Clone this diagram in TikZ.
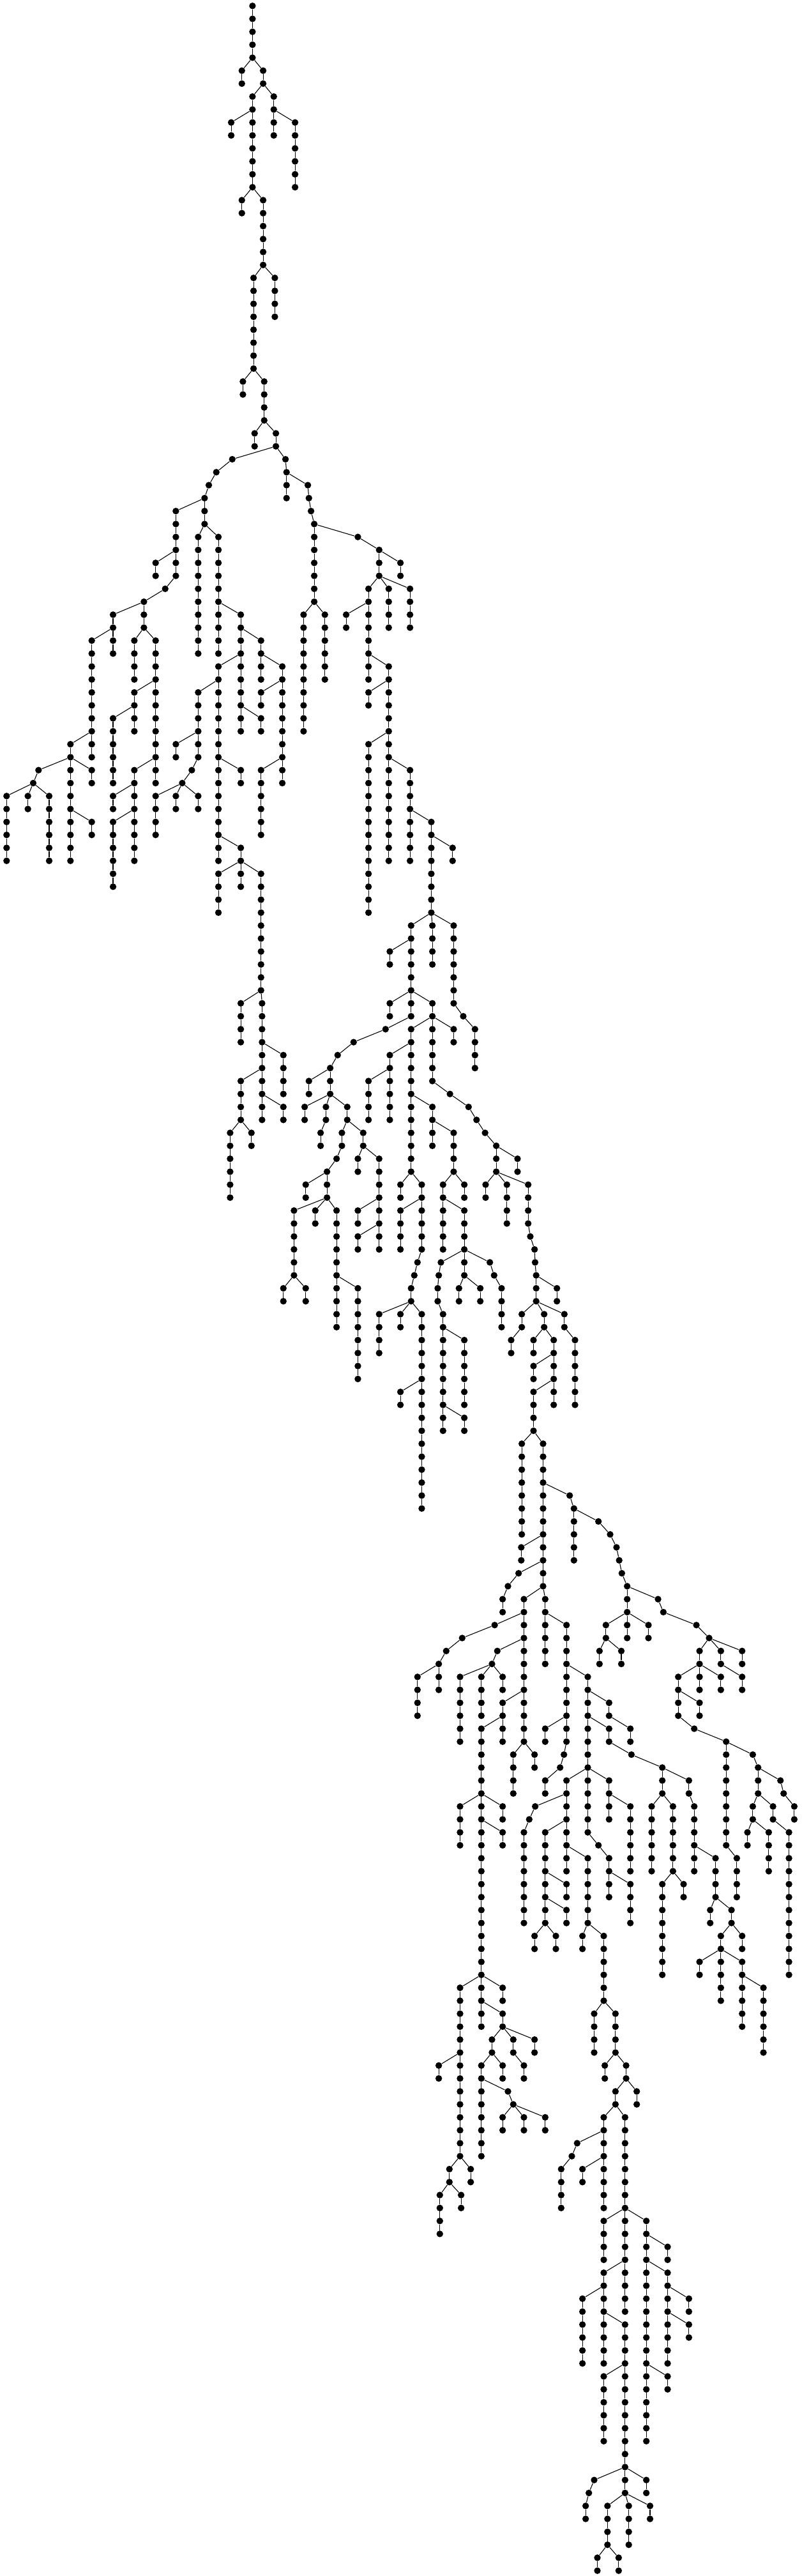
\documentclass[tikz,border=0pt]{standalone}
\tikzset{
  tdot/.style={circle,fill=black,draw=none,inner sep=0pt,minimum size=5.2pt},
  tedge/.style={draw=black,line width=0.55pt}
}
\newcommand\seg[5]{%
  \foreach \k in {1,...,#5}{%
    \node[tdot] (#1-\k) at ({6pt+(#3)*8.335pt},{-4.6pt-(#4+\k-1)*10.14pt}) {};
  }%
  \draw[tedge] (#2) -- (#1-1);%
  \ifnum#5>1
    \foreach \k in {2,...,#5}{%
      \pgfmathtruncatemacro\kprev{\k-1}%
      \draw[tedge] (#1-\kprev) -- (#1-\k);
    }%
  \fi
}
\begin{document}
\begin{tikzpicture}
\fill[white] (0,0) rectangle (627.5pt,-2016.5pt);
\useasboundingbox (0,0) rectangle (627.5pt,-2016.5pt);
\node[tdot] (root) at ({6pt+23.0*8.335pt},-4.6pt) {};
% top
\seg{zA}{root}{23.0}{1}{4}
\seg{zB}{zA-4}{22.0}{5}{2}
\seg{zC}{zA-4}{24.0}{5}{2}
\seg{zD}{zC-2}{23.0}{7}{2}
\seg{zE}{zC-2}{25.0}{7}{2}
\seg{zF}{zD-2}{21.0}{9}{2}
\seg{zG}{zD-2}{23.0}{9}{6}
\seg{zH}{zE-2}{25.0}{9}{2}
\seg{zI}{zE-2}{27.0}{9}{6}
\seg{zJ}{zG-6}{22.0}{15}{2}
\seg{zK}{zG-6}{24.0}{15}{6}
\seg{zM}{zK-6}{23.1}{21}{8}
\seg{zN}{zK-6}{25.1}{21}{4}
\seg{zO}{zM-8}{22.1}{29}{2}
\seg{zP}{zM-8}{24.1}{29}{4}
\seg{zQ}{zP-4}{23.2}{33}{2}
\seg{zR}{zP-4}{25.2}{33}{2}
% left branch
\seg{S1}{zR-2}{21.1}{35}{1}
\seg{S2}{S1-1}{19.6}{36}{1}
\seg{S3}{S2-1}{18.9}{37}{1}
\seg{S4}{S3-1}{18.5}{38}{1}
\seg{U}{S4-1}{15.8}{39}{4}
\seg{V}{S4-1}{18.5}{39}{2}
\seg{W}{U-4}{13.9}{43}{2}
\seg{X}{U-4}{15.8}{43}{2}
\seg{X3}{X-2}{14.8}{45}{1}
\seg{X4}{X3-1}{12.8}{46}{1}
\seg{Y}{X4-1}{9.9}{47}{2}
\seg{Z}{X4-1}{12.8}{47}{2}
\seg{Y1}{Y-2}{7.9}{49}{8}
\seg{Y2}{Y-2}{9.9}{49}{2}
\seg{Y3}{Y1-8}{5.9}{57}{2}
\seg{Y4}{Y1-8}{7.9}{57}{2}
\seg{Y5}{Y3-2}{2.9}{59}{1}
\seg{Y6}{Y5-1}{2.4}{60}{1}
\seg{Y7}{Y3-2}{5.9}{59}{4}
\seg{Y8}{Y3-2}{7.9}{59}{2}
\seg{Y9}{Y6-1}{-0.1}{61}{6}
\seg{Y10}{Y6-1}{1.9}{61}{2}
\seg{Y11}{Y6-1}{3.9}{61}{6}
\seg{Y12}{Y7-4}{5.9}{63}{4}
\seg{Y13}{Y7-4}{7.9}{63}{2}
\seg{Z1}{Z-2}{11.9}{49}{4}
\seg{Z2}{Z-2}{13.9}{49}{10}
\seg{Z3}{Z2-4}{11.9}{53}{2}
\seg{Z4}{Z3-2}{9.9}{55}{6}
\seg{Z5}{Z3-2}{11.9}{55}{2}
\seg{Z6}{Z2-10}{11.9}{59}{2}
\seg{Z7}{Z2-10}{13.9}{59}{2}
\seg{Z8}{Z6-2}{9.9}{61}{2}
\seg{Z9}{Z6-2}{11.9}{61}{2}
\seg{Z10}{Z9-2}{9.9}{63}{6}
\seg{Z11}{Z9-2}{11.9}{63}{4}
\seg{V1}{V-2}{17.9}{41}{10}
\seg{V2}{V-2}{19.8}{41}{6}
\seg{V3}{V2-6}{19.8}{47}{4}
\seg{V4}{V2-6}{21.9}{47}{2}
\seg{V5}{V4-2}{21.9}{49}{2}
\seg{V6}{V4-2}{23.8}{49}{2}
\seg{V7}{V5-2}{19.8}{51}{2}
\seg{V8}{V5-2}{21.9}{51}{4}
\seg{V9}{V7-2}{17.9}{53}{4}
\seg{V10}{V7-2}{19.8}{53}{6}
\seg{V11}{V9-4}{15.8}{57}{2}
\seg{V12}{V9-4}{17.9}{57}{2}
\seg{V13}{V12-2}{17.3}{59}{1}
\seg{V14}{V13-1}{16.4}{60}{1}
\seg{V15}{V14-1}{13.9}{61}{4}
\seg{V16}{V14-1}{15.8}{61}{2}
\seg{V17}{V14-1}{17.9}{61}{2}
\seg{V18}{V10-6}{19.8}{59}{6}
\seg{V19}{V10-6}{21.9}{59}{2}
\seg{V20}{V18-6}{19.8}{65}{2}
\seg{V21}{V18-6}{21.9}{65}{2}
\seg{V22}{V21-2}{19.8}{67}{4}
\seg{V23}{V21-2}{21.9}{67}{2}
\seg{V24}{V21-2}{23.8}{67}{10}
\seg{V25}{V8-4}{21.9}{55}{2}
\seg{V26}{V8-4}{23.8}{55}{2}
\seg{V27}{V6-2}{23.8}{51}{2}
\seg{V28}{V6-2}{25.8}{51}{2}
\seg{V29}{V28-2}{23.8}{53}{2}
\seg{V30}{V28-2}{25.8}{53}{6}
\seg{V31}{V30-6}{23.8}{59}{6}
\seg{V32}{V30-6}{25.8}{59}{2}
\seg{W1}{V24-10}{21.9}{77}{4}
\seg{W2}{V24-10}{23.9}{77}{4}
\seg{W3}{W2-4}{23.9}{81}{2}
\seg{W4}{W2-4}{25.9}{81}{4}
\seg{W5}{W3-2}{21.9}{83}{4}
\seg{W6}{W3-2}{23.9}{83}{2}
\seg{W7}{W6-2}{23.9}{85}{2}
\seg{W8}{W6-2}{25.9}{85}{2}
\seg{W9}{W5-4}{20.9}{87}{6}
\seg{W10}{W5-4}{22.9}{87}{2}
% right branch
\seg{T1}{zR-2}{26.1}{35}{1}
\seg{T2}{T1-1}{26.2}{36}{1}
\seg{T3}{T2-1}{26.2}{37}{2}
\seg{T4}{T2-1}{28.2}{37}{1}
\seg{T5}{T4-1}{28.3}{38}{1}
\seg{T6}{T5-1}{28.5}{39}{1}
\seg{T7}{T6-1}{28.8}{40}{1}
\seg{T8}{T7-1}{28.8}{41}{6}
\seg{T9}{T7-1}{32.9}{41}{1}
\seg{T10}{T9-1}{34.9}{42}{1}
\seg{T11}{T8-6}{27.8}{47}{10}
\seg{T12}{T8-6}{29.8}{47}{6}
\seg{T13}{T10-1}{34.9}{43}{2}
\seg{T14}{T10-1}{36.9}{43}{2}
\seg{T15}{T13-2}{33.9}{45}{2}
\seg{T16}{T13-2}{35.8}{45}{4}
\seg{T17}{T13-2}{37.8}{45}{4}
\seg{T18}{T15-2}{31.8}{47}{2}
\seg{T19}{T15-2}{33.9}{47}{4}
\seg{T20}{T19-4}{33.9}{51}{2}
\seg{T21}{T19-4}{35.8}{51}{2}
\seg{T22}{T21-2}{33.9}{53}{2}
\seg{T23}{T21-2}{35.8}{53}{4}
\seg{T24}{T23-4}{33.9}{57}{14}
\seg{T25}{T23-4}{35.8}{57}{2}
\seg{T26}{T25-2}{35.8}{59}{8}
\seg{T27}{T25-2}{37.8}{59}{4}
\seg{T28}{T27-4}{37.8}{63}{4}
\seg{T29}{T27-4}{39.8}{63}{2}
\seg{T30}{T29-2}{39.8}{65}{6}
\seg{T31}{T29-2}{41.8}{65}{2}
% middle
\seg{P1}{T30-6}{37.9}{71}{2}
\seg{P2}{T30-6}{39.9}{71}{4}
\seg{P3}{T30-6}{41.9}{71}{7}
\seg{P4}{P3-7}{42.8}{78}{1}
\seg{P5}{P4-1}{43.9}{79}{4}
\seg{P6}{P1-2}{35.9}{73}{2}
\seg{P7}{P1-2}{37.9}{73}{4}
\seg{P8}{P7-4}{35.9}{77}{2}
\seg{P9}{P7-4}{37.9}{77}{2}
\seg{P10}{P7-4}{39.9}{77}{2}
\seg{P11}{P9-2}{35.5}{79}{1}
\seg{P12}{P11-1}{32.5}{80}{1}
\seg{P13}{P12-1}{31.0}{81}{1}
\seg{P14}{P13-1}{30.3}{82}{1}
\seg{P15}{P14-1}{28.3}{83}{2}
\seg{P16}{P14-1}{30.3}{83}{2}
\seg{P17}{P16-2}{27.9}{85}{2}
\seg{P18}{P16-2}{29.9}{85}{2}
\seg{P19}{P18-2}{29.4}{87}{2}
\seg{P20}{P16-2}{31.9}{85}{2}
\seg{P21}{P20-2}{31.4}{87}{2}
\seg{P22}{P21-2}{30.9}{89}{1}
\seg{P23}{P22-1}{30.0}{90}{1}
\seg{P24}{P20-2}{33.4}{87}{2}
\seg{P25}{P23-1}{28.0}{91}{2}
\seg{P26}{P23-1}{30.0}{91}{2}
\seg{Q1}{P26-2}{26.9}{93}{6}
\seg{Q2}{P26-2}{28.9}{93}{2}
\seg{Q3}{P26-2}{30.9}{93}{6}
\seg{Q4}{Q1-6}{25.9}{99}{2}
\seg{Q5}{Q1-6}{28.0}{99}{2}
\seg{Q6}{Q3-6}{30.9}{99}{4}
\seg{Q7}{Q3-6}{32.9}{99}{8}
\seg{P27}{P24-2}{32.9}{89}{2}
\seg{P28}{P24-2}{34.9}{89}{6}
\seg{P29}{P28-4}{32.9}{93}{2}
\seg{P30}{P28-6}{32.9}{95}{2}
\seg{P31}{P28-6}{34.9}{95}{2}
\seg{P32}{P10-2}{37.9}{79}{2}
\seg{P33}{P10-2}{39.9}{79}{5}
\seg{P34}{P10-2}{41.9}{79}{2}
\seg{P35}{P32-2}{35.9}{81}{2}
\seg{P36}{P32-2}{37.9}{81}{4}
\seg{P37}{P35-2}{33.9}{83}{4}
\seg{P38}{P35-2}{35.9}{83}{4}
\seg{P39}{P36-4}{37.9}{85}{6}
\seg{P40}{P36-4}{39.9}{85}{2}
\seg{P41}{P39-6}{36.9}{91}{2}
\seg{P42}{P39-6}{38.9}{91}{2}
\seg{P43}{P42-2}{36.9}{93}{4}
\seg{P44}{P42-2}{38.9}{93}{4}
\seg{P45}{P44-4}{38.5}{97}{1}
\seg{P46}{P45-1}{38.2}{98}{1}
\seg{P47}{P46-1}{37.9}{99}{2}
\seg{P48}{P47-2}{34.9}{101}{4}
\seg{P49}{P47-2}{36.9}{101}{2}
\seg{P50}{P47-2}{38.9}{101}{6}
\seg{P51}{P50-6}{36.9}{107}{2}
\seg{P52}{P50-6}{38.9}{107}{10}
\seg{P53}{P40-2}{39.9}{87}{2}
\seg{P54}{P40-2}{41.9}{87}{4}
\seg{P55}{P54-4}{40.9}{91}{2}
\seg{P56}{P54-4}{42.9}{91}{2}
\seg{P57}{P55-2}{40.9}{93}{4}
\seg{P58}{P55-2}{42.9}{93}{4}
\seg{P59}{P58-4}{40.7}{97}{1}
\seg{P60}{P59-1}{40.5}{98}{1}
\seg{P61}{P60-1}{40.4}{99}{2}
\seg{P62}{P61-2}{40.9}{101}{2}
\seg{P63}{P58-4}{42.9}{97}{2}
\seg{P64}{P58-4}{45.3}{97}{1}
\seg{P65}{P64-1}{45.7}{98}{1}
\seg{P66}{P65-1}{46.4}{99}{4}
\seg{P68}{P62-2}{40.9}{103}{6}
\seg{P69}{P62-2}{42.9}{103}{6}
\seg{P70}{P68-6}{40.9}{109}{2}
\seg{P71}{P68-6}{42.9}{109}{2}
\seg{P72}{P63-2}{42.4}{99}{2}
\seg{P73}{P63-2}{44.4}{99}{2}
\seg{P74}{P33-5}{41.55}{84}{1}
\seg{P75}{P74-1}{43.3}{85}{1}
\seg{P76}{P75-1}{44.05}{86}{1}
\seg{P77}{P76-1}{44.85}{87}{1}
\seg{P78}{P77-1}{45.9}{88}{3}
\seg{P79}{P78-1}{47.9}{89}{2}
\seg{P80}{P78-3}{44.9}{91}{2}
\seg{P81}{P78-3}{46.9}{91}{4}
\seg{P82}{P78-3}{48.9}{91}{4}
\seg{P83}{P82-4}{49.1}{95}{1}
\seg{P84}{P83-1}{49.5}{96}{1}
\seg{P85}{P84-1}{49.55}{97}{1}
\seg{P86}{P85-1}{49.65}{98}{3}
\seg{P87}{P86-1}{51.6}{99}{2}
\seg{P88}{P86-3}{48.3}{101}{2}
\seg{P89}{P88-2}{47.3}{103}{2}
\seg{P90}{P86-3}{50.4}{101}{2}
\seg{P91}{P86-3}{52.3}{101}{2}
\seg{P92}{P91-2}{53.3}{103}{6}
\seg{P93}{P90-2}{49.4}{103}{2}
\seg{P94}{P90-2}{51.3}{103}{6}
\seg{P95}{P94-2}{49.4}{105}{2}
\seg{P96}{P94-4}{49.4}{107}{4}
\seg{P97}{P96-4}{48.3}{111}{8}
\seg{P98}{P96-4}{50.3}{111}{8}
\seg{P99}{P98-4}{52.8}{115}{1}
\seg{P100}{P99-1}{53.2}{116}{5}
\seg{P101}{P100-1}{55.5}{117}{1}
\seg{P102}{P101-1}{56.6}{118}{1}
% lower
\seg{R1}{P98-8}{48.25}{119}{2}
\seg{R2}{P98-8}{50.3}{119}{2}
\seg{R3}{R2-2}{48.0}{121}{1}
\seg{R4}{R3-1}{47.0}{122}{1}
\seg{R5}{R4-1}{46.5}{123}{2}
\seg{R6}{R2-2}{50.3}{121}{2}
\seg{R7}{R6-2}{48.5}{123}{2}
\seg{R8}{R6-2}{50.5}{123}{2}
\seg{R9}{R7-2}{45.75}{125}{1}
\seg{R10}{R9-1}{42.7}{126}{1}
\seg{R11}{R10-1}{41.2}{127}{1}
\seg{R12}{R11-1}{40.5}{128}{1}
\seg{R13}{R7-2}{48.5}{125}{2}
\seg{R14}{R12-1}{38.5}{129}{4}
\seg{R15}{R12-1}{40.5}{129}{2}
\seg{R16}{R13-2}{46.0}{127}{1}
\seg{R17}{R16-1}{45.5}{128}{1}
\seg{R18}{R13-2}{48.5}{127}{4}
\seg{R19}{R17-1}{42.5}{129}{6}
\seg{R20}{R17-1}{44.5}{129}{4}
\seg{R21}{R17-1}{46.5}{129}{2}
\seg{R22}{R18-4}{46.5}{131}{2}
\seg{R23}{R18-4}{48.5}{131}{4}
\seg{R24}{R22-2}{44.5}{133}{6}
\seg{R25}{R22-2}{46.5}{133}{2}
\seg{R26}{R24-6}{42.5}{139}{4}
\seg{R27}{R24-6}{44.5}{139}{2}
\seg{R28}{R24-6}{46.5}{139}{2}
\seg{R29}{R27-2}{44.5}{141}{12}
\seg{R30}{R27-2}{46.5}{141}{2}
\seg{R31}{R29-12}{42.5}{153}{6}
\seg{R32}{R29-12}{44.5}{153}{2}
\seg{R33}{R29-12}{46.5}{153}{2}
\seg{R34}{R32-2}{44.5}{155}{2}
\seg{R35}{R32-2}{46.5}{155}{2}
\seg{R36}{R35-2}{45.5}{157}{2}
\seg{R37}{R35-2}{47.5}{157}{2}
\seg{R38}{R37-2}{48.5}{159}{2}
\seg{R39}{R35-2}{49.5}{157}{2}
\seg{R40}{R36-2}{44.5}{159}{2}
\seg{R41}{R36-2}{46.5}{159}{2}
\seg{R42}{R40-2}{44.5}{161}{6}
\seg{R43}{R40-2}{47.0}{161}{1}
\seg{R44}{R43-1}{47.5}{162}{1}
\seg{R45}{R44-1}{46.5}{163}{2}
\seg{R46}{R44-1}{48.5}{163}{2}
\seg{R47}{R44-1}{50.5}{163}{2}
\seg{R48}{R31-6}{40.5}{159}{2}
\seg{R49}{R31-6}{42.5}{159}{8}
\seg{R50}{R49-8}{41.5}{167}{2}
\seg{R51}{R49-8}{43.5}{167}{2}
\seg{R52}{R50-2}{40.6}{169}{4}
\seg{R53}{R50-2}{42.6}{169}{2}
\seg{R54}{R23-4}{47.5}{135}{4}
\seg{R55}{R23-4}{49.5}{135}{2}
\seg{R56}{R8-2}{50.5}{125}{4}
\seg{R57}{R8-2}{52.5}{125}{4}
\seg{R58}{R57-4}{52.5}{129}{4}
\seg{R59}{R57-4}{54.5}{129}{2}
\seg{R60}{R58-4}{50.5}{133}{2}
\seg{R61}{R58-4}{52.5}{133}{2}
\seg{R62}{R61-2}{52.26}{135}{1}
\seg{R63}{R62-1}{51.9}{136}{1}
\seg{R64}{R63-1}{50.5}{137}{2}
\seg{R65}{R59-2}{54.5}{131}{2}
\seg{R66}{R59-2}{56.5}{131}{2}
\seg{R67}{R66-2}{58.5}{133}{2}
\seg{R68}{R65-2}{54.5}{133}{4}
\seg{R69}{R65-2}{56.5}{133}{2}
\seg{R70}{R69-2}{58.6}{135}{1}
\seg{R71}{R70-1}{61.5}{136}{3}
\seg{R72}{R68-4}{52.5}{137}{2}
\seg{R73}{R68-4}{54.5}{137}{5}
\seg{R74}{R73-5}{55.5}{142}{1}
\seg{R75}{R74-1}{56.5}{143}{2}
\seg{R76}{R75-2}{56.5}{145}{2}
\seg{R77}{R75-2}{58.5}{145}{4}
\seg{R78}{R68-4}{56.5}{137}{2}
\seg{R79}{R78-2}{56.5}{139}{2}
\seg{R80}{R78-2}{58.5}{139}{6}
\seg{R81}{R72-2}{49.56}{139}{1}
\seg{R82}{R81-1}{49.0}{140}{1}
\seg{R83}{R82-1}{48.5}{141}{8}
\seg{R84}{R72-2}{52.5}{139}{2}
\seg{R85}{R84-2}{50.5}{141}{4}
\seg{R86}{R84-2}{52.5}{141}{2}
\seg{R87}{R85-4}{50.5}{145}{4}
\seg{R88}{R85-4}{52.5}{145}{2}
\seg{R89}{R87-2}{52.5}{147}{2}
\seg{R90}{R87-4}{49.5}{149}{2}
\seg{R91}{R87-4}{51.5}{149}{2}
\seg{R92}{R86-2}{52.5}{143}{2}
\seg{R93}{R86-2}{54.5}{143}{6}
\seg{R94}{R93-6}{54.0}{149}{2}
\seg{R95}{R93-6}{56.0}{149}{6}
\seg{R96}{R95-6}{55.1}{155}{4}
\seg{R97}{R95-6}{57.1}{155}{4}
\seg{R98}{R97-4}{56.1}{159}{2}
\seg{R99}{R97-4}{58.1}{159}{2}
\seg{R100}{R99-2}{57.1}{161}{2}
\seg{R101}{R99-2}{59.1}{161}{2}
\seg{R102}{R100-2}{56.0}{163}{2}
\seg{R103}{R100-2}{58.0}{163}{8}
\seg{R104}{R71-1}{64.0}{137}{2}
\seg{R105}{R104-2}{64.5}{139}{6}
\seg{R106}{R105-4}{66.5}{143}{4}
\seg{R107}{R106-4}{66.0}{147}{2}
\seg{R108}{R106-4}{68.0}{147}{2}
\seg{R109}{R108-2}{67.0}{149}{2}
\seg{R110}{R108-2}{69.0}{149}{2}
\seg{R111}{R109-2}{65.0}{151}{2}
\seg{R112}{R109-2}{67.0}{151}{4}
\seg{R113}{R109-2}{69.0}{151}{2}
\seg{R114}{R113-2}{69.0}{153}{4}
\seg{R115}{R113-2}{71.0}{153}{6}
\seg{R116}{R71-3}{60.5}{139}{6}
\seg{R117}{R71-3}{62.5}{139}{6}
\seg{R118}{R117-6}{61.5}{145}{8}
\seg{R119}{R117-6}{63.5}{145}{2}
\seg{R120}{P102-1}{57.2}{119}{1}
\seg{R121}{R120-1}{57.45}{120}{1}
\seg{R122}{R121-1}{57.7}{121}{1}
\seg{R123}{R122-1}{58.2}{122}{3}
\seg{R124}{R123-1}{61.1}{123}{1}
\seg{R125}{R124-1}{61.6}{124}{1}
\seg{R126}{R125-1}{64.7}{125}{1}
\seg{R127}{R126-1}{65.9}{126}{1}
\seg{R128}{R123-3}{56.2}{125}{2}
\seg{R129}{R123-3}{58.2}{125}{2}
\seg{R130}{R123-3}{60.2}{125}{2}
\seg{R131}{R128-2}{55.6}{127}{2}
\seg{R132}{R128-2}{57.65}{127}{2}
\seg{R133}{R127-1}{65.0}{127}{2}
\seg{R134}{R127-1}{67.0}{127}{2}
\seg{R135}{R127-1}{69.0}{127}{2}
\seg{R136}{R133-2}{63.0}{129}{2}
\seg{R137}{R133-2}{65.0}{129}{2}
\seg{R138}{R133-2}{67.0}{129}{2}
\seg{R139}{R136-2}{63.0}{131}{2}
\seg{R153}{R136-2}{65.0}{131}{2}
\seg{R140}{R139-2}{64.5}{133}{1}
\seg{R141}{R140-1}{67.5}{134}{9}
\seg{R142}{R141-1}{70.0}{135}{1}
\seg{R143}{R142-1}{70.5}{136}{3}
\seg{R144}{R141-9}{68.5}{143}{4}
\seg{R145}{R143-1}{72.6}{137}{1}
\seg{R146}{R145-1}{72.9}{138}{1}
\seg{R147}{R146-1}{73.9}{139}{2}
\seg{R148}{R143-3}{70.0}{139}{2}
\seg{R149}{R143-3}{71.9}{139}{2}
\seg{R150}{R149-2}{73.4}{141}{12}
\seg{R151}{R148-2}{69.5}{141}{2}
\seg{R152}{R148-2}{71.5}{141}{4}
\seg{R154}{R134-2}{69.0}{129}{2}
% bottom
\seg{R155}{R103-8}{56.0}{171}{4}
\seg{R156}{R103-8}{58.0}{171}{4}
\seg{R157}{R103-8}{60.0}{171}{2}
\seg{R158}{R156-4}{56.0}{175}{2}
\seg{R159}{R156-4}{58.0}{175}{4}
\seg{R160}{R158-2}{54.0}{177}{6}
\seg{R161}{R158-2}{56.0}{177}{2}
\seg{R162}{R161-2}{56.0}{179}{4}
\seg{R163}{R161-2}{58.0}{179}{4}
\seg{R164}{R163-4}{56.0}{183}{6}
\seg{R165}{R163-4}{58.0}{183}{8}
\seg{R166}{R165-8}{55.1}{191}{1}
\seg{R167}{R166-1}{54.6}{192}{1}
\seg{R168}{R167-1}{54.3}{193}{2}
\seg{R169}{R165-8}{58.0}{191}{2}
\seg{R170}{R165-8}{60.0}{191}{2}
\seg{R171}{R169-2}{56.35}{193}{4}
\seg{R172}{R169-2}{58.35}{193}{4}
\seg{R173}{R169-2}{60.35}{193}{2}
\seg{R174}{R171-4}{55.4}{197}{2}
\seg{R175}{R171-4}{57.4}{197}{2}
\seg{R176}{R157-2}{60.0}{173}{2}
\seg{R177}{R157-2}{62.0}{173}{2}
\seg{R178}{R176-2}{60.0}{175}{8}
\seg{R179}{R176-2}{62.0}{175}{2}
\seg{R180}{R178-8}{60.0}{183}{6}
\seg{R181}{R178-8}{62.0}{183}{2}
\seg{R182}{R179-2}{62.0}{177}{2}
\seg{R183}{R179-2}{64.0}{177}{2}
\seg{R184}{R182-2}{62.0}{179}{4}
\seg{R185}{R182-2}{64.0}{179}{2}
\seg{R186}{R102-2}{53.5}{165}{1}
\seg{R187}{R186-1}{53.0}{166}{1}
\seg{R188}{R187-1}{52.0}{167}{4}
\seg{R189}{R102-2}{56.0}{165}{2}
\seg{R190}{R189-2}{54.0}{167}{2}
\seg{R191}{R189-2}{56.0}{167}{4}
\end{tikzpicture}
\end{document}
